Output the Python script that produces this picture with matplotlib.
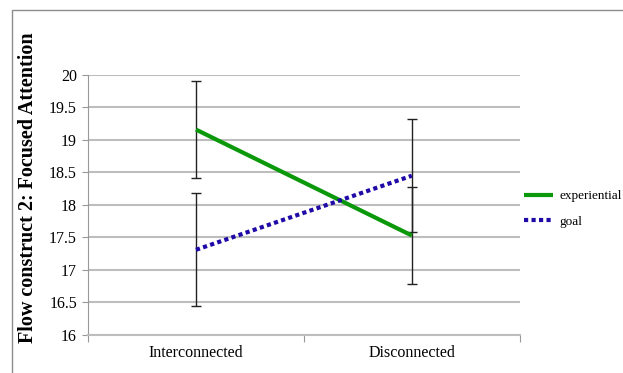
import matplotlib.pyplot as plt
from matplotlib.patches import Rectangle

conditions = ['Interconnected', 'Disconnected']
experiential = [19.16, 17.53]
experiential_err = [0.74, 0.75]
goal = [17.31, 18.45]
goal_err = [0.87, 0.87]
yticks = [16, 16.5, 17, 17.5, 18, 18.5, 19, 19.5, 20]

plt.rcParams['font.family'] = ['Liberation Serif', 'DejaVu Serif']

fig = plt.figure(figsize=(6.23, 3.73), dpi=100)
fig.patches.append(Rectangle((0.0193, -0.05), 1.1, 1.023, transform=fig.transFigure,
                             fill=False, edgecolor='#8c8c8c', linewidth=1))
ax = fig.add_axes([0.1413, 0.102, 0.693, 0.697])

xpos = [0.5, 1.5]
ax.errorbar(xpos, experiential, yerr=experiential_err, fmt='none', ecolor='#222222',
            elinewidth=1, capsize=3.5, capthick=1, zorder=3)
ax.errorbar(xpos, goal, yerr=goal_err, fmt='none', ecolor='#222222',
            elinewidth=1, capsize=3.5, capthick=1, zorder=3)
ax.plot(xpos, experiential, color='#0b990b', linewidth=3, solid_capstyle='butt',
        label='experiential', zorder=4)
ax.plot(xpos, goal, color='#1f0aa8', linewidth=3, linestyle=(0, (1, 0.8)),
        dash_capstyle='butt', label='goal', zorder=4)

ax.set_xlim(0, 2)
ax.set_ylim(16, 20)
ax.set_yticks(yticks)
ax.set_yticklabels([f'{v:g}' for v in yticks], fontsize=11.5)
ax.set_xticks([0, 1, 2])
ax.set_xticklabels([])
ax.set_xticks(xpos, minor=True)
ax.set_xticklabels(conditions, minor=True, fontsize=11.5)
ax.tick_params(axis='x', which='minor', length=0, pad=7)
ax.tick_params(axis='x', which='major', length=5, color='#999999', direction='out')
ax.tick_params(axis='y', length=4, color='#999999', direction='out', pad=4)

ax.grid(axis='y', color='#bdbdbd', linewidth=1.5)
ax.set_axisbelow(True)
for side in ['top', 'right']:
    ax.spines[side].set_visible(False)
ax.spines['left'].set_color('#999999')
ax.spines['bottom'].set_color('#bdbdbd')
ax.spines['bottom'].set_linewidth(1.5)

ax.set_ylabel('Flow construct 2: Focused Attention', fontsize=14.5, fontweight='bold')
ax.yaxis.set_label_coords(-0.115, 0.565)

ax.legend(loc='center left', bbox_to_anchor=(0.998, 0.485), frameon=False, fontsize=9.5,
          handlelength=2.2, handletextpad=0.5, labelspacing=1.0, borderaxespad=0)

fig.savefig('out.png', dpi=100)
